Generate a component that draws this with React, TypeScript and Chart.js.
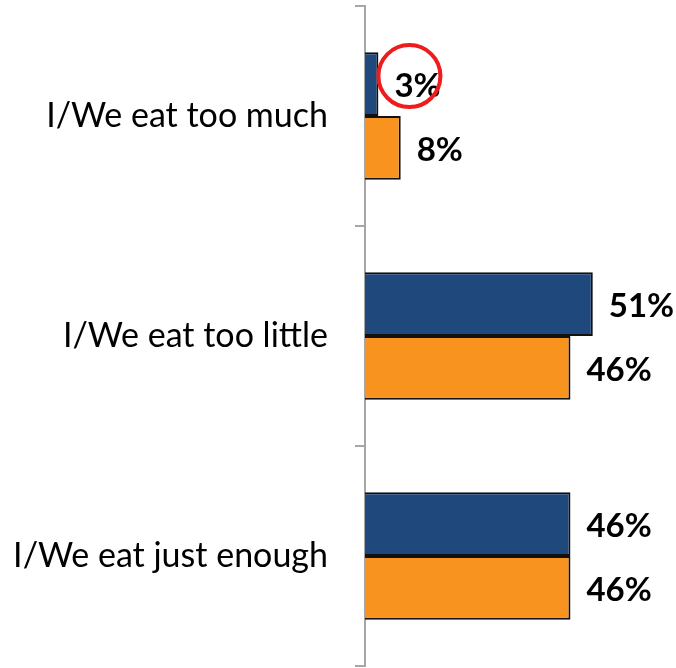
import React, { useEffect, useRef } from "react";
import { Chart, registerables } from "chart.js";

Chart.register(...registerables);

const categories = ["I/We eat too much", "I/We eat too little", "I/We eat just enough"];
const seriesA = [3, 51, 46];
const seriesB = [8, 46, 46];
const highlightIndex = 0;

const labelFont = "Lato, 'Open Sans', sans-serif";

const dataLabels = {
  id: "dataLabels",
  afterDatasetsDraw(chart: any) {
    const ctx = chart.ctx;
    ctx.save();
    ctx.font = `bold 33px ${labelFont}`;
    ctx.fillStyle = "#000";
    ctx.textBaseline = "middle";
    ctx.textAlign = "left";
    chart.data.datasets.forEach((ds: any, di: number) => {
      const meta = chart.getDatasetMeta(di);
      meta.data.forEach((bar: any, i: number) => {
        ctx.fillText(`${ds.data[i]}%`, bar.x + 16, bar.y + 2);
      });
    });
    const bar = chart.getDatasetMeta(0).data[highlightIndex];
    if (bar) {
      ctx.beginPath();
      ctx.lineWidth = 4;
      ctx.strokeStyle = "#EE1C1C";
      ctx.arc(bar.x + 31, bar.y - 8, 31, 0, Math.PI * 2);
      ctx.stroke();
    }
    ctx.restore();
  },
};

export default function App() {
  const ref = useRef<HTMLCanvasElement>(null);
  useEffect(() => {
    if (!ref.current) return;
    const chart = new Chart(ref.current, {
      type: "bar",
      data: {
        labels: categories,
        datasets: [
          {
            data: seriesA,
            backgroundColor: "#1F497D",
            borderColor: "#111",
            borderWidth: 2,
            categoryPercentage: 0.58,
            barPercentage: 1,
          },
          {
            data: seriesB,
            backgroundColor: "#F7931E",
            borderColor: "#111",
            borderWidth: 2,
            categoryPercentage: 0.58,
            barPercentage: 1,
          },
        ],
      },
      options: {
        indexAxis: "y",
        animation: false,
        responsive: true,
        maintainAspectRatio: false,
        layout: { padding: { top: 6, bottom: 2, right: 43, left: 0 } },
        plugins: { legend: { display: false }, tooltip: { enabled: false } },
        scales: {
          x: { display: false, min: 0, max: 60 },
          y: {
            afterFit: (s: any) => {
              s.width = 365;
              s.paddingTop = 0;
              s.paddingBottom = 0;
            },
            border: { display: true, color: "#A6A6A6", width: 2 },
            grid: {
              offset: true,
              drawOnChartArea: false,
              drawTicks: true,
              tickLength: 10,
              color: "#A6A6A6",
              lineWidth: 2,
            },
            ticks: {
              padding: 27,
              color: "#000",
              font: { family: labelFont, size: 34 },
            },
          },
        },
      },
      plugins: [dataLabels],
    });
    return () => chart.destroy();
  }, []);
  return (
    <div style={{ position: "fixed", left: 0, top: 0, width: 676, height: 668, background: "#fff" }}>
      <canvas ref={ref} />
    </div>
  );
}
